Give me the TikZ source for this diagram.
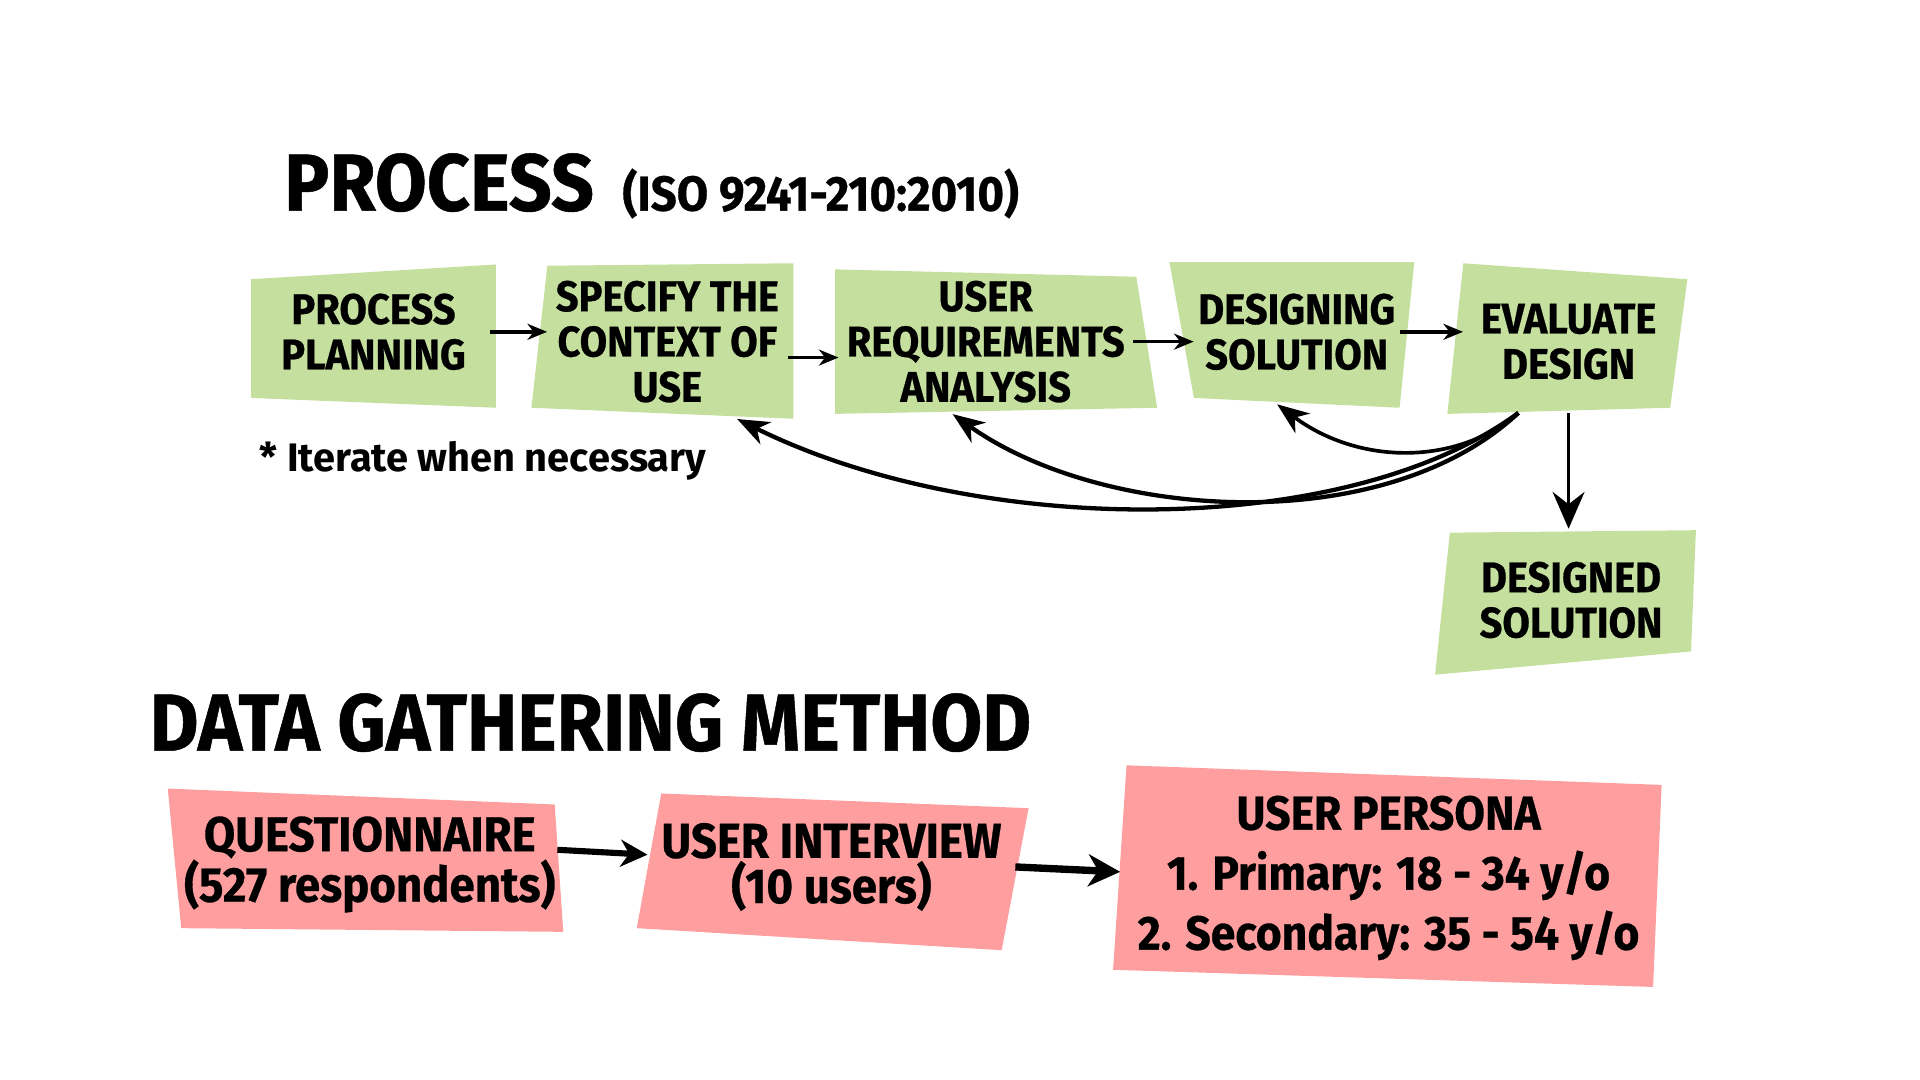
\documentclass[tikz,border=0pt]{standalone}
\usepackage{fontspec}
\setmainfont{Fira Sans}
\newfontfamily\condfont{Fira Sans}[FakeStretch=0.93, FakeBold=0.6]
\usetikzlibrary{arrows.meta}
\definecolor{stepgreen}{RGB}{197,224,158}
\definecolor{methodred}{RGB}{255,158,158}

\begin{document}
\begin{tikzpicture}[x=1pt, y=-1pt,
  greenbox/.style={inner sep=0pt, align=center,
    font=\condfont\bfseries\fontsize{35}{37}\selectfont},
  redbox/.style={inner sep=0pt, align=center,
    font=\condfont\bfseries\fontsize{40}{37}\selectfont},
  heading/.style={inner sep=0pt, font=\condfont\bfseries\fontsize{66}{70}\selectfont},
  flow/.style={-{Stealth[length=16pt, width=13pt, inset=5pt]}, line width=3pt},
  loopback/.style={-{Stealth[length=26pt, width=20pt, inset=8pt]}, line width=3.5pt},
  method/.style={-{Stealth[length=22pt, width=22pt, inset=7pt]}, line width=5pt}]
  \useasboundingbox (0,0) rectangle (1568,882);

  % Titles
  \node[heading, anchor=base west] (proc) at (232,172) {PROCESS};
  \node[heading, anchor=base west, font=\condfont\bfseries\fontsize{40}{42}\selectfont]
    (iso) at ([xshift=23pt]proc.base east) {(ISO 9241-210:2010)};
  \node[heading, anchor=base west] (dgm) at (122,613) {DATA GATHERING METHOD};
  \node[inner sep=0pt, anchor=base west, font=\bfseries\fontsize{32.5}{34}\selectfont]
    (iter) at (212,385) {* Iterate when necessary};

  % Process steps
  \fill[stepgreen] (205,228) -- (405,216) -- (405,333) -- (205,325) -- cycle;
  \fill[stepgreen] (447,217) -- (648,215) -- (648,342) -- (434,333) -- cycle;
  \fill[stepgreen] (682,220) -- (928,226) -- (945,333) -- (682,338) -- cycle;
  \fill[stepgreen] (955,214) -- (1155,214) -- (1143,333) -- (975,325) -- cycle;
  \fill[stepgreen] (1195,215) -- (1378,228) -- (1364,333) -- (1182,338) -- cycle;
  \fill[stepgreen] (1184,435) -- (1385,433) -- (1381,532) -- (1172,551) -- cycle;
  \node[greenbox, minimum width=190, minimum height=110] (pp) at (305,271)
    {PROCESS\\PLANNING};
  \node[greenbox, minimum width=196, minimum height=126] (spec) at (545,279)
    {SPECIFY THE\\CONTEXT OF\\USE};
  \node[greenbox, minimum width=240, minimum height=118] (ureq) at (805,279)
    {USER\\REQUIREMENTS\\ANALYSIS};
  \node[greenbox, minimum width=168, minimum height=118] (design) at (1059,271)
    {DESIGNING\\SOLUTION};
  \node[greenbox, minimum width=172, minimum height=116] (eval) at (1281,279)
    {EVALUATE\\DESIGN};
  \node[greenbox, minimum width=180, minimum height=116] (dsol) at (1283,490)
    {DESIGNED\\SOLUTION};

  \draw[flow] (pp.east) -- (pp.east -| spec.west);
  \draw[flow] ([yshift=-13pt]spec.east) -- ([yshift=-13pt]spec.east -| ureq.west);
  \draw[flow] (ureq.east) -- (ureq.east -| design.west);
  \draw[flow] (design.east) -- (design.east -| eval.west);
  \draw[loopback, line width=3pt, -{Stealth[length=30pt, width=26pt, inset=10pt]}]
    (eval.south) -- (eval.south |- dsol.north);

  % Iterations
  \coordinate (loop) at ([xshift=-41pt]eval.south);
  \draw[loopback] (loop) .. controls +(-140,103) and +(198,98) .. ([xshift=57pt]spec.south);
  \draw[loopback] (loop) .. controls +(-110,103) and +(122,87) .. ([xshift=-27pt]ureq.south);
  \draw[loopback, line width=3pt] (loop) .. controls +(-50,43) and +(67,50) .. ([xshift=-16pt]design.south);

  % Data gathering
  \fill[methodred] (137,644) -- (453,657) -- (460,761) -- (148,758) -- cycle;
  \fill[methodred] (540,648) -- (840,660) -- (818,776) -- (520,758) -- cycle;
  \fill[methodred] (920,625) -- (1357,641) -- (1350,806) -- (909,792) -- cycle;
  \node[redbox, minimum width=306, minimum height=100] (quest) at (302,706)
    {QUESTIONNAIRE\\(527 respondents)};
  \node[redbox, minimum width=300, minimum height=100] (inter) at (679,708)
    {USER INTERVIEW\\(10 users)};
  \node[redbox, minimum width=438, minimum height=150, font=\condfont\bfseries\fontsize{39}{49}\selectfont]
    (persona) at (1134,717)
    {USER PERSONA\\1. Primary: 18 - 34 y/o\\2. Secondary: 35 - 54 y/o};

  \draw[method] ([yshift=12pt]quest.east) -- ([yshift=10pt]inter.west);
  \draw[method, line width=6pt, -{Stealth[length=26pt, width=26pt, inset=8pt]}]
    (inter.east) -- ([yshift=5pt]persona.west);
\end{tikzpicture}
\end{document}
